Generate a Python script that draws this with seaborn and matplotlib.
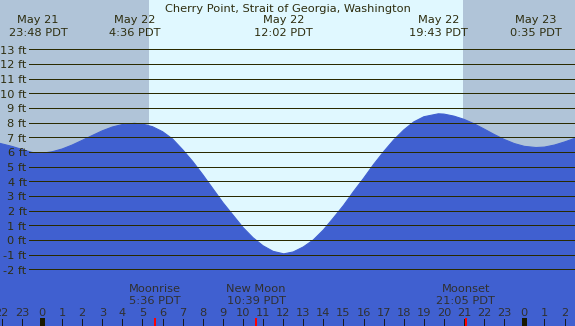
import matplotlib
matplotlib.use("Agg")
import matplotlib.pyplot as plt
import seaborn as sns
import pandas as pd

# ---- data (hours since May 22 00:00 PDT, tide height in ft) ----
hours = [-2.2, -1.5, -1.0, -0.5, -0.2, 0.0, 0.5, 1.0, 1.5, 2.0, 2.5, 3.0, 3.5, 4.0, 4.6,
         5.0, 5.5, 6.0, 6.5, 7.0, 7.5, 8.0, 8.5, 9.0, 9.5, 10.0, 10.5, 11.0, 11.5, 12.03,
         12.5, 13.0, 13.5, 14.0, 14.5, 15.0, 15.5, 16.0, 16.5, 17.0, 17.5, 18.0, 18.5, 19.0, 19.72,
         20.0, 20.5, 21.0, 21.5, 22.0, 22.5, 23.0, 23.5, 24.0, 24.58, 25.0, 25.5, 26.0, 26.6]
heights = [6.62, 6.38, 6.17, 5.97, 5.91, 5.91, 6.01, 6.20, 6.47, 6.79, 7.12, 7.44, 7.70, 7.87, 7.95,
           7.90, 7.72, 7.38, 6.88, 6.15, 5.35, 4.45, 3.50, 2.55, 1.70, 0.85, 0.15, -0.40, -0.78, -0.95,
           -0.82, -0.48, 0.00, 0.68, 1.50, 2.35, 3.30, 4.20, 5.15, 6.02, 6.82, 7.50, 8.05, 8.40, 8.60,
           8.58, 8.44, 8.22, 7.92, 7.56, 7.19, 6.85, 6.57, 6.38, 6.30, 6.33, 6.47, 6.68, 6.97]

extreme_hours = [-0.2, 4.6, 12.03, 19.72, 24.58]
extreme_dates = ["May 21", "May 22", "May 22", "May 22", "May 23"]
extreme_times = ["23:48 PDT", "4:36 PDT", "12:02 PDT", "19:43 PDT", "0:35 PDT"]

moon_hours = [5.6, 10.65, 21.08]
moon_names = ["Moonrise", "New Moon", "Moonset"]
moon_times = ["5:36 PDT", "10:39 PDT", "21:05 PDT"]

sunrise_h = 5.32
sunset_h = 20.95

ft_levels = list(range(-2, 14))
hour_ticks = list(range(-2, 27))

title = "Cherry Point, Strait of Georgia, Washington"

# ---- style ----
sns.set_theme(style="white")
plt.rcParams['font.family'] = ['DejaVu Sans']

night_c = "#b0c4d8"
day_c = "#e0f8ff"
fill_c = "#4060d0"
line_c = "#2a2a00"
txt_c = "#2e2e10"
btxt_c = "#303030"
fs = 8.2

X0, X1 = -2.09, 26.52
Y0, Y1 = -5.87, 16.36

fig = plt.figure(figsize=(5.75, 3.26), dpi=100)
ax = fig.add_axes([0, 0, 1, 1])

ax.axvspan(X0, sunrise_h, color=night_c, lw=0, zorder=0)
ax.axvspan(sunrise_h, sunset_h, color=day_c, lw=0, zorder=0)
ax.axvspan(sunset_h, X1, color=night_c, lw=0, zorder=0)

df = pd.DataFrame({"hour": hours, "ft": heights})
ax.fill_between(df["hour"], df["ft"], Y0, color=fill_c, lw=0, zorder=1)
sns.lineplot(data=df, x="hour", y="ft", ax=ax, color=fill_c, lw=0.8, zorder=2, sort=False)
ax.set_xlim(X0, X1)
ax.set_ylim(Y0, Y1)
ax.axis("off")

# horizontal lines and labels
for v in ft_levels:
    ax.hlines(v, -0.63, X1, color=line_c, lw=0.72, zorder=3, antialiased=False)
    ax.text(-0.76, v - 0.31, f"{v} ft", ha="right", va="baseline", fontsize=fs,
            color=txt_c, zorder=4)

tx = ax.get_xaxis_transform()
px = 1.0 / 326

# title and extremes
ax.text((287.5 - 42) / 20.1, 1 - 11.5 * px, title, transform=tx, ha="center",
        va="baseline", fontsize=fs, color=txt_c)
for h, d, t in zip(extreme_hours, extreme_dates, extreme_times):
    ax.text(h, 1 - 23.3 * px, d, transform=tx, ha="center", va="baseline",
            fontsize=fs, color=txt_c)
    ax.text(h, 1 - 35.7 * px, t, transform=tx, ha="center", va="baseline",
            fontsize=fs, color=txt_c)

# hour ticks
for h in hour_ticks:
    lab = str(h % 24)
    ax.text(h, 1 - 316 * px, lab, transform=tx, ha="center", va="baseline",
            fontsize=fs, color=btxt_c)
    if h % 24 == 0:
        ax.vlines(h, 0, 8 * px, transform=tx, color="#1a1a00", lw=2.2, zorder=5,
                  antialiased=False)
    else:
        ax.vlines(h, 0, 7 * px, transform=tx, color="#1a1a1a", lw=0.72, zorder=5,
                  antialiased=False)

for h, n, t in zip(moon_hours, moon_names, moon_times):
    ax.text(h, 1 - 291.7 * px, n, transform=tx, ha="center", va="baseline",
            fontsize=fs, color=btxt_c)
    ax.text(h, 1 - 303.5 * px, t, transform=tx, ha="center", va="baseline",
            fontsize=fs, color=btxt_c)
    ax.vlines(h, 0, 8 * px, transform=tx, color="#ff0000", lw=1.1, zorder=6,
              antialiased=False)

fig.savefig("out.png", dpi=100)
